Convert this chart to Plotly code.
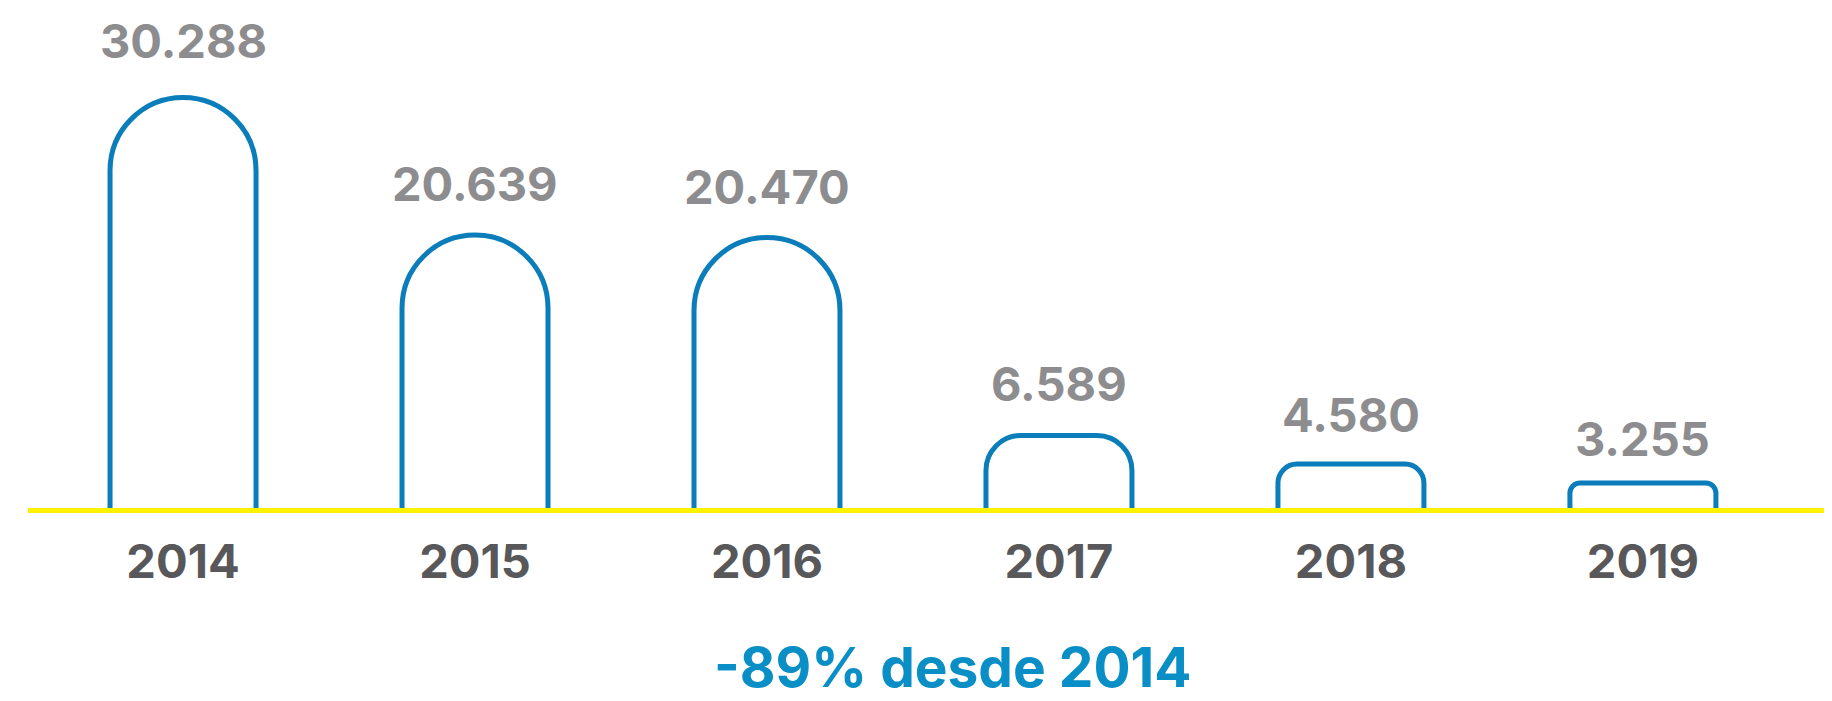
import plotly.graph_objects as go

# ---- data ----
YEARS = ["2014", "2015", "2016", "2017", "2018", "2019"]
VALUES = [30288, 20639, 20470, 6589, 4580, 3255]
FOOTNOTE = "-89% desde 2014"

# ---- styles ----
CORNER_RADII_PX = [73, 73, 73, 35, 19, 10]
LABEL_GAP_PX = [57, 52, 51, 52, 50, 44]
BAR_BLUE = "#0A7DBA"
TEXT_BLUE = "#0A8EC6"
VALUE_GRAY = "#8D8D90"
YEAR_GRAY = "#58585A"
YELLOW = "#FFF200"
FONT = "Inter"


def fmt(v):
    return f"{v:,}".replace(",", ".")


fig = go.Figure()
for year, val, rad in zip(YEARS, VALUES, CORNER_RADII_PX):
    fig.add_trace(
        go.Bar(
            x=[year],
            y=[val],
            width=0.5,
            marker=dict(color="white", line=dict(color=BAR_BLUE, width=5),
                        cornerradius=rad),
            showlegend=False,
            hovertemplate="%{x}: %{y:,}<extra></extra>",
        )
    )

annotations = []
for i, (val, gap) in enumerate(zip(VALUES, LABEL_GAP_PX)):
    annotations.append(
        dict(x=i, y=val, xref="x", yref="y", text=fmt(val), showarrow=False,
             xanchor="center", yanchor="middle", yshift=gap,
             font=dict(family=FONT, size=47, color=VALUE_GRAY, weight=700))
    )
annotations.append(
    dict(x=0.510, y=-0.318, xref="paper", yref="paper", text=FOOTNOTE,
         showarrow=False, xanchor="center", yanchor="middle",
         font=dict(family=FONT, size=55, color=TEXT_BLUE, weight=700))
)

fig.update_layout(
    width=1832,
    height=701,
    margin=dict(l=20, r=0, t=0, b=201),
    paper_bgcolor="white",
    plot_bgcolor="white",
    barmode="overlay",
    separators=",.",
    annotations=annotations,
    xaxis=dict(
        type="category",
        categoryorder="array",
        categoryarray=YEARS,
        range=[-0.531, 5.675],
        showline=True,
        linecolor=YELLOW,
        linewidth=5,
        showgrid=False,
        zeroline=False,
        ticks="",
        ticklabelstandoff=9,
        tickfont=dict(family=FONT, size=47, color=YEAR_GRAY, weight=700),
        fixedrange=True,
    ),
    yaxis=dict(visible=False, range=[1501, 36564], fixedrange=True,
               showgrid=False, zeroline=False),
)

fig.write_html("out.html")
